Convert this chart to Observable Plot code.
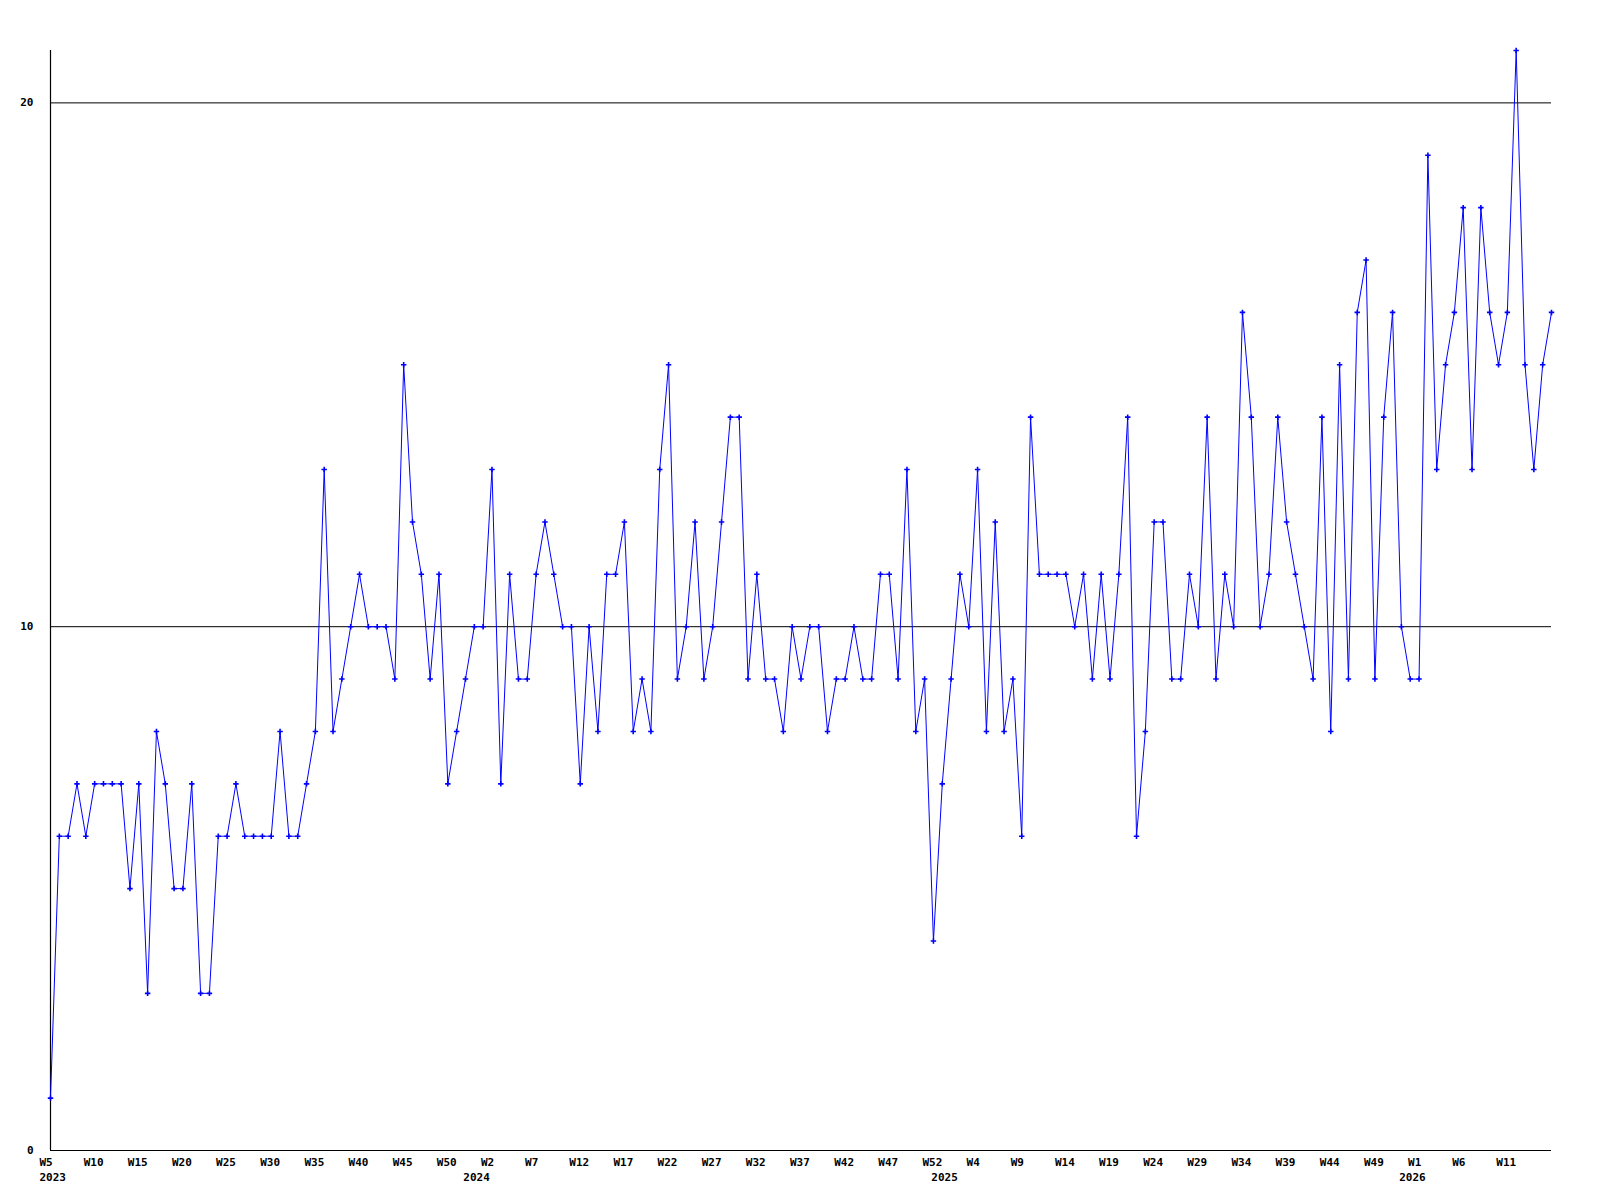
<!DOCTYPE html>
<html>
<head>
<meta charset="utf-8">
<script src="https://cdn.jsdelivr.net/npm/d3@7"></script>
<script src="https://cdn.jsdelivr.net/npm/@observablehq/plot@0.6"></script>
<style>
  body { margin: 0; background: #fff; }
  #chart svg { display: block; }
</style>
</head>
<body>
<div id="chart"></div>
<script>
// Week slots per year (first and last week number shown for each year)
const years = [2023, 2024, 2025, 2026];
const firstWeek = [5, 0, 0, 0];
const lastWeek = [52, 52, 52, 16];

// Weekly values, one per week slot
const values = [
  1, 6, 6, 7, 6, 7, 7, 7, 7, 5,
  7, 3, 8, 7, 5, 5, 7, 3, 3, 6,
  6, 7, 6, 6, 6, 6, 8, 6, 6, 7,
  8, 13, 8, 9, 10, 11, 10, 10, 10, 9,
  15, 12, 11, 9, 11, 7, 8, 9, 10, 10,
  13, 7, 11, 9, 9, 11, 12, 11, 10, 10,
  7, 10, 8, 11, 11, 12, 8, 9, 8, 13,
  15, 9, 10, 12, 9, 10, 12, 14, 14, 9,
  11, 9, 9, 8, 10, 9, 10, 10, 8, 9,
  9, 10, 9, 9, 11, 11, 9, 13, 8, 9,
  4, 7, 9, 11, 10, 13, 8, 12, 8, 9,
  6, 14, 11, 11, 11, 11, 10, 11, 9, 11,
  9, 11, 14, 6, 8, 12, 12, 9, 9, 11,
  10, 14, 9, 11, 10, 16, 14, 10, 11, 14,
  12, 11, 10, 9, 14, 8, 15, 9, 16, 17,
  9, 14, 16, 10, 9, 9, 19, 13, 15, 16,
  18, 13, 18, 16, 15, 16, 21, 15, 13, 15,
  16
];

const yTicks = [0, 10, 20];
const gridLines = [10, 20];
const yMax = 21;
const labelEvery = 5;

// Build category table
const weeks = [];
years.forEach((y, i) => {
  for (let w = firstWeek[i]; w <= lastWeek[i]; w++) {
    weeks.push({ year: y, week: w, key: `${y}-W${String(w).padStart(2, "0")}` });
  }
});
const data = weeks.map((d, i) => ({ ...d, value: values[i] }));
const keys = weeks.map(d => d.key);
const weekOf = new Map(weeks.map(d => [d.key, d.week]));
const yearOf = new Map(weeks.map(d => [d.key, d.year]));
const weekTicks = keys.filter((k, i) => i % labelEvery === 0 && i < keys.length - 1);
const yearTicks = years.map(y => weeks.find(d => d.year === y).key);

const font = "'DejaVu Sans Mono', 'Liberation Mono', monospace";

const chart = Plot.plot({
  width: 1600,
  height: 1200,
  marginLeft: 50,
  marginRight: 49,
  marginTop: 50,
  marginBottom: 50,
  style: { fontFamily: font, fontSize: "11px", fontWeight: "bold", background: "#fff", color: "#000" },
  x: { type: "point", domain: keys, padding: 0 },
  y: { domain: [0, yMax] },
  marks: [
    Plot.ruleY(gridLines, { stroke: "#000", strokeWidth: 1 }),
    Plot.ruleY([0], { stroke: "#000", strokeWidth: 1.2 }),
    Plot.ruleX([keys[0]], { stroke: "#000", strokeWidth: 1.2 }),
    Plot.line(data, { x: "key", y: "value", stroke: "#0000ff", strokeWidth: 1 }),
    Plot.dot(data, { x: "key", y: "value", symbol: "plus", r: 1.9, stroke: "#0000ff", strokeWidth: 1.6 }),
    Plot.axisY(yTicks, { tickSize: 0, tickPadding: 17, label: null, tickFormat: d => String(d), fontWeight: "bold" }),
    Plot.axisX(weekTicks, {
      anchor: "bottom", tickSize: 0, tickPadding: 8, label: null,
      tickFormat: k => "W" + weekOf.get(k), textAnchor: "start", dx: -11, fontWeight: "bold"
    }),
    Plot.axisX(yearTicks, {
      anchor: "bottom", tickSize: 0, tickPadding: 23, label: null,
      tickFormat: k => String(yearOf.get(k)), textAnchor: "start", dx: -11, fontWeight: "bold"
    })
  ]
});
document.getElementById("chart").appendChild(chart);
</script>
</body>
</html>
